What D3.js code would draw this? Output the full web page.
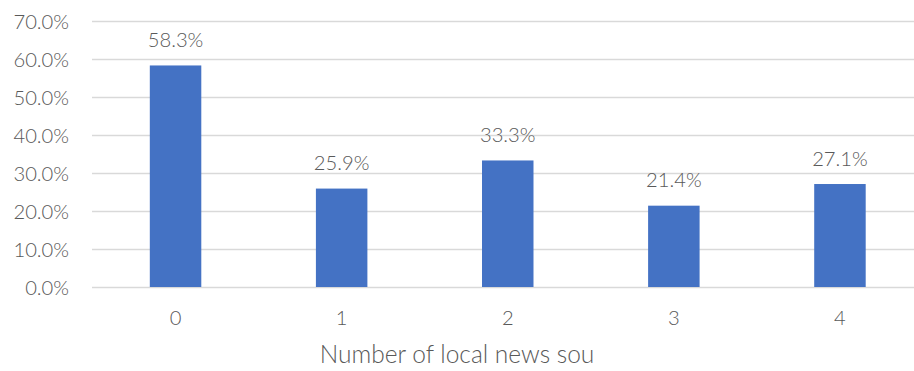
<!DOCTYPE html>
<html>
<head>
<meta charset="utf-8">
<script src="https://cdn.jsdelivr.net/npm/d3@7"></script>
<style>
  html, body { margin: 0; padding: 0; background: #fff; }
  svg { display: block; }
  text { font-family: Lato, "Open Sans", sans-serif; font-weight: 300; fill: #595959; }
</style>
</head>
<body>
<svg id="chart" width="914" height="371"></svg>
<script>
// Share of respondents by number of local news sources used
const categories = ["0", "1", "2", "3", "4"];
const shares = [58.3, 25.9, 33.3, 21.4, 27.1];
const yTicks = [0, 10, 20, 30, 40, 50, 60, 70];
const xTitle = "Number of local news sou";

const W = 914, H = 371;
const svg = d3.select("#chart");

const x = d3.scaleBand()
  .domain(categories)
  .range([92.5, 923])
  .paddingInner(0.69)
  .paddingOuter(0.345);

const y = d3.scaleLinear()
  .domain([0, 70])
  .range([287, 21]);

const fmt = v => v.toFixed(1) + "%";

// horizontal gridlines
svg.append("g")
  .selectAll("line")
  .data(yTicks)
  .join("line")
  .attr("x1", 92)
  .attr("x2", W)
  .attr("y1", d => Math.round(y(d)) + 0.5)
  .attr("y2", d => Math.round(y(d)) + 0.5)
  .attr("stroke", "#d9d9d9")
  .attr("stroke-width", 1.3);

// y-axis labels
const yAxis = d3.axisLeft(y).tickValues(yTicks).tickFormat(fmt).tickSize(0).tickPadding(0);
svg.append("g")
  .attr("transform", "translate(69,0)")
  .call(yAxis)
  .call(g => g.select(".domain").remove())
  .call(g => g.selectAll("text")
    .attr("font-size", 20.2)
    .attr("font-family", null)
    .attr("fill", null)
    .attr("dy", "0.36em"));

// bars
svg.append("g")
  .selectAll("rect")
  .data(categories.map((c, i) => ({ c, v: shares[i] })))
  .join("rect")
  .attr("x", d => x(d.c))
  .attr("width", x.bandwidth())
  .attr("y", d => y(d.v))
  .attr("height", d => y(0) - y(d.v))
  .attr("fill", "#4472c4");

// value labels
svg.append("g")
  .selectAll("text")
  .data(categories.map((c, i) => ({ c, v: shares[i] })))
  .join("text")
  .attr("x", d => x(d.c) + x.bandwidth() / 2)
  .attr("y", d => y(d.v) - 18.5)
  .attr("text-anchor", "middle")
  .attr("font-size", 20.2)
  .text(d => fmt(d.v));

// x-axis labels
const xAxis = d3.axisBottom(x).tickSize(0).tickPadding(0);
svg.append("g")
  .attr("transform", "translate(0,287)")
  .call(xAxis)
  .call(g => g.select(".domain").remove())
  .call(g => g.selectAll("text")
    .attr("font-size", 20.2)
    .attr("font-family", null)
    .attr("fill", null)
    .attr("y", 38)
    .attr("dy", null));

// x-axis title
svg.append("text")
  .attr("x", 457)
  .attr("y", 363)
  .attr("text-anchor", "middle")
  .attr("font-size", 24.5)
  .text(xTitle);
</script>
</body>
</html>
